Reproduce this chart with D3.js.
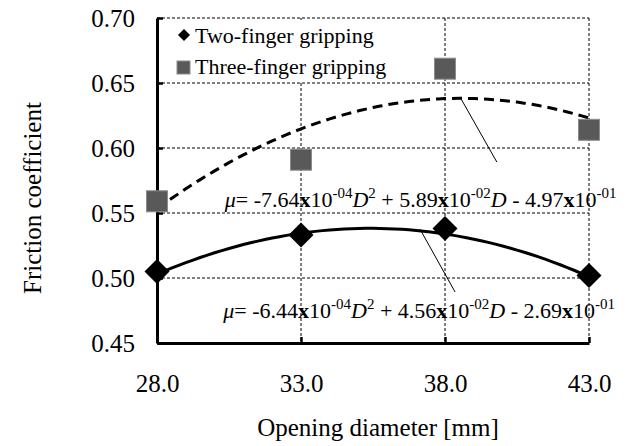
<!DOCTYPE html>
<html>
<head>
<meta charset="utf-8">
<script src="https://cdn.jsdelivr.net/npm/d3@7/dist/d3.min.js"></script>
<style>
  body { margin: 0; background: #fff; }
  svg { display: block; }
</style>
</head>
<body>
<div id="chart"></div>
<script>
// data
const diameters = [28, 33, 38, 43];
const twoFinger = [0.505, 0.533, 0.538, 0.502];
const threeFinger = [0.559, 0.591, 0.661, 0.614];
const xTicks = [28, 33, 38, 43];
const yTicks = [0.45, 0.50, 0.55, 0.60, 0.65, 0.70];
const seriesNames = ['Two-finger gripping', 'Three-finger gripping'];
// quadratic trend lines, mu = a*D^2 + b*D + c
const twoFit = [-6.44e-4, 4.56e-2, -2.69e-1];
const threeFit = [-7.64e-4, 5.89e-2, -4.97e-1];
// label anchor [D, mu] and leader line [[D, mu], [D, mu]]
const twoLabelAt = [30.3, 0.469];
const threeLabelAt = [30.35, 0.555];
const twoLeader = [[37.13, 0.5377], [38.35, 0.4892]];
const threeLeader = [[38.56, 0.6377], [39.8, 0.5892]];

const SERIF = 'Liberation Serif';

const frictionChart = (() => {
  let $svg, $chart;

  let width = 626,
      height = 446,
      margin = {top: 18, right: 37, bottom: 103, left: 157},
      innerW = width - margin.left - margin.right,
      innerH = height - margin.top - margin.bottom;

  let x, y;

  //////////////////////////////////
  // PUBLIC
  const init = (el) => {
    x = d3.scaleLinear().domain([28, 43]).range([0, innerW]);
    y = d3.scaleLinear().domain([0.45, 0.70]).range([innerH, 0]);
    draw(el);
  };

  //////////////////////////////////
  // PRIVATE
  function fitCurve(coef) {
    const pts = [];
    for (let D = 28; D <= 43.0001; D += 0.25) {
      pts.push([D, coef[0] * D * D + coef[1] * D + coef[2]]);
    }
    return pts;
  }

  function sci(v) {
    const e = Math.floor(Math.log10(Math.abs(v)));
    const m = Math.abs(v) / Math.pow(10, e);
    const es = (e < 0 ? '-' : '') + String(Math.abs(e)).padStart(2, '0');
    return {sign: v < 0 ? '-' : '+', m: m.toFixed(2), e: es};
  }

  function equation(g, coef, at) {
    const a = sci(coef[0]), b = sci(coef[1]), c = sci(coef[2]);
    const parts = [
      {t: '\u03bc', style: 'italic'},
      {t: '= ' + a.sign + a.m},
      {t: 'x', weight: 'bold'},
      {t: '10'},
      {t: a.e, sup: true},
      {t: 'D', style: 'italic'},
      {t: '2', sup: true},
      {t: '\u00a0' + b.sign + '\u00a0' + b.m},
      {t: 'x', weight: 'bold'},
      {t: '10'},
      {t: b.e, sup: true},
      {t: 'D', style: 'italic'},
      {t: '\u00a0' + c.sign + '\u00a0' + c.m},
      {t: 'x', weight: 'bold'},
      {t: '10'},
      {t: c.e, sup: true},
    ];
    const text = g.append('text')
      .attr('x', x(at[0]))
      .attr('y', y(at[1]))
      .attr('font-family', SERIF)
      .attr('font-size', 22)
      .attr('fill', '#000');
    let raised = false;
    parts.forEach(p => {
      const ts = text.append('tspan').text(p.t);
      if (p.style) ts.attr('font-style', p.style);
      if (p.weight) ts.attr('font-weight', p.weight);
      if (p.sup) {
        ts.attr('font-size', 15);
        if (!raised) ts.attr('dy', -9);
        raised = true;
      } else if (raised) {
        ts.attr('dy', 9);
        raised = false;
      }
    });
  }

  function draw(el) {
    $svg = d3.select(el).append('svg')
      .attr('width', width)
      .attr('height', height)
      .attr('font-family', SERIF);

    $chart = $svg.append('g')
      .attr('transform', `translate(${margin.left}, ${margin.top})`);

    // grid
    $chart.append('g').selectAll('line')
      .data(yTicks.filter(d => d > 0.45))
      .enter().append('line')
        .attr('x1', 0).attr('x2', innerW)
        .attr('y1', d => y(d)).attr('y2', d => y(d))
        .attr('stroke', '#000').attr('stroke-width', 1)
        .attr('stroke-dasharray', '3,2');
    $chart.append('g').selectAll('line')
      .data(xTicks.filter(d => d > 28))
      .enter().append('line')
        .attr('y1', 0).attr('y2', innerH)
        .attr('x1', d => x(d)).attr('x2', d => x(d))
        .attr('stroke', '#000').attr('stroke-width', 1)
        .attr('stroke-dasharray', '3,2');

    // axes
    const xAxis = d3.axisBottom(x).tickValues(xTicks).tickFormat(d3.format('.1f'))
      .tickSizeInner(-6).tickSizeOuter(0).tickPadding(31);
    const yAxis = d3.axisLeft(y).tickValues(yTicks).tickFormat(d3.format('.2f'))
      .tickSizeInner(-6).tickSizeOuter(0).tickPadding(22);

    const $x = $chart.append('g').attr('transform', `translate(0, ${innerH})`).call(xAxis);
    const $y = $chart.append('g').call(yAxis);
    [$x, $y].forEach(a => {
      a.attr('font-family', SERIF);
      a.select('.domain').attr('stroke-width', 3);
      a.selectAll('.tick line').attr('stroke-width', 2.5);
      a.selectAll('text').attr('font-size', 25).attr('fill', '#000');
    });

    // legend box
    const $legend = $svg.append('g');
    $legend.append('rect')
      .attr('x', 170).attr('y', 20).attr('width', 232).attr('height', 61)
      .attr('fill', '#fff');

    // trend lines
    const line = d3.line().x(d => x(d[0])).y(d => y(d[1]));
    $chart.append('path')
      .datum(fitCurve(threeFit))
      .attr('d', line)
      .attr('fill', 'none').attr('stroke', '#000').attr('stroke-width', 3)
      .attr('stroke-dasharray', '10,6');
    $chart.append('path')
      .datum(fitCurve(twoFit))
      .attr('d', line)
      .attr('fill', 'none').attr('stroke', '#000').attr('stroke-width', 3);

    // leader lines
    $chart.append('g').selectAll('line')
      .data([twoLeader, threeLeader])
      .enter().append('line')
        .attr('x1', d => x(d[0][0])).attr('y1', d => y(d[0][1]))
        .attr('x2', d => x(d[1][0])).attr('y2', d => y(d[1][1]))
        .attr('stroke', '#000').attr('stroke-width', 1);

    // markers
    const diamond = d3.symbol(d3.symbolSquare, 312);
    $chart.append('g').selectAll('path')
      .data(diameters.map((d, i) => [d, twoFinger[i]]))
      .enter().append('path')
        .attr('d', diamond)
        .attr('transform', d => `translate(${x(d[0])}, ${y(d[1])}) rotate(45)`)
        .attr('fill', '#000');

    const sq = 21;
    $chart.append('g').selectAll('rect')
      .data(diameters.map((d, i) => [d, threeFinger[i]]))
      .enter().append('rect')
        .attr('x', d => x(d[0]) - sq / 2)
        .attr('y', d => y(d[1]) - sq / 2)
        .attr('width', sq).attr('height', sq)
        .attr('fill', '#595959').attr('stroke', '#8c8c8c').attr('stroke-width', 1);

    // equations
    equation($chart, threeFit, threeLabelAt);
    equation($chart, twoFit, twoLabelAt);

    // legend entries
    $legend.append('path')
      .attr('d', d3.symbol(d3.symbolSquare, 72))
      .attr('transform', 'translate(184, 35) rotate(45)')
      .attr('fill', '#000');
    $legend.append('rect')
      .attr('x', 177).attr('y', 61).attr('width', 13).attr('height', 13)
      .attr('fill', '#595959').attr('stroke', '#8c8c8c').attr('stroke-width', 1);
    $legend.selectAll('text')
      .data(seriesNames)
      .enter().append('text')
        .attr('x', 195)
        .attr('y', (d, i) => 43 + i * 31)
        .attr('font-size', 22)
        .attr('fill', '#000')
        .text(d => d);

    // axis titles
    $svg.append('text')
      .attr('x', 378).attr('y', 436)
      .attr('text-anchor', 'middle')
      .attr('font-size', 25)
      .text('Opening diameter [mm]');
    $svg.append('text')
      .attr('transform', 'translate(41, 198) rotate(-90)')
      .attr('text-anchor', 'middle')
      .attr('font-size', 25)
      .text('Friction coefficient');
  }

  return {
    init: init,
  };
})();

frictionChart.init(document.getElementById('chart'));
</script>
</body>
</html>
